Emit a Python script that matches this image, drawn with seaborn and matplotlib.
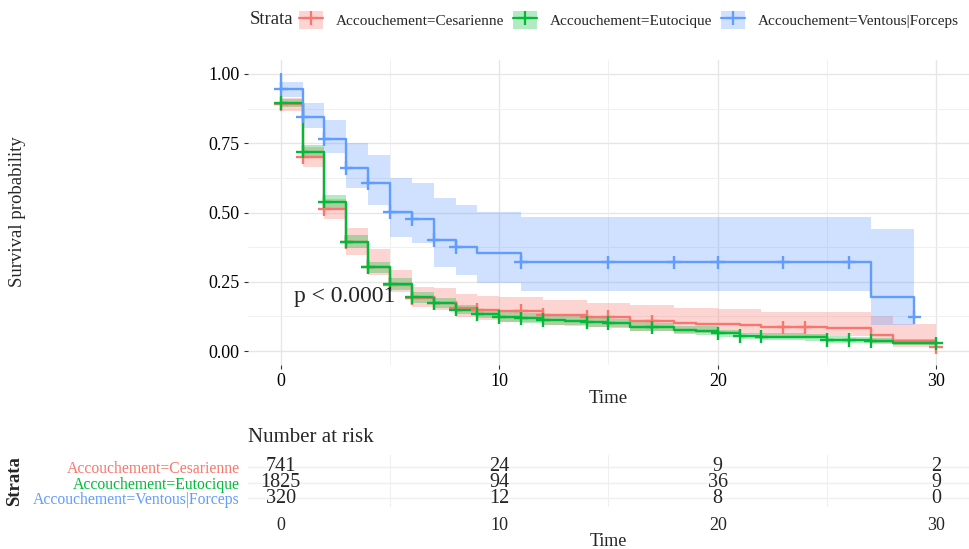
import numpy as np
import pandas as pd
import matplotlib
matplotlib.use("Agg")
import matplotlib.pyplot as plt
import seaborn as sns
from matplotlib.patches import Patch
from matplotlib.lines import Line2D
from matplotlib.legend_handler import HandlerTuple
from matplotlib.ticker import FixedLocator

# ---- data ---------------------------------------------------------------
strata = ["Accouchement=Cesarienne", "Accouchement=Eutocique", "Accouchement=Ventous|Forceps"]
palette = ["#F8766D", "#00BA38", "#619CFF"]

# Cesarienne: Kaplan-Meier steps at integer times
time_ces = list(range(31))
surv_ces = [0.891, 0.699, 0.512, 0.392, 0.304, 0.240, 0.192, 0.175, 0.157, 0.150,
            0.146, 0.146, 0.132, 0.130, 0.124, 0.124, 0.110, 0.107, 0.100, 0.099,
            0.097, 0.096, 0.086, 0.086, 0.086, 0.085, 0.085, 0.059, 0.036, 0.036, 0.014]
lower_ces = [0.865, 0.665, 0.475, 0.345, 0.274, 0.214, 0.160, 0.148, 0.124, 0.112,
             0.106, 0.106, 0.094, 0.092, 0.087, 0.087, 0.073, 0.071, 0.066, 0.065,
             0.063, 0.062, 0.054, 0.054, 0.053, 0.053, 0.053, 0.030, 0.014, 0.014, 0.002]
upper_ces = [0.914, 0.735, 0.550, 0.445, 0.367, 0.292, 0.232, 0.226, 0.206, 0.199,
             0.196, 0.196, 0.184, 0.184, 0.172, 0.172, 0.166, 0.165, 0.154, 0.154,
             0.152, 0.151, 0.142, 0.142, 0.141, 0.141, 0.140, 0.125, 0.099, 0.098, 0.060]
censor_ces = [0, 1, 2, 3, 4, 5, 6, 7, 8, 9, 11, 12, 14, 15, 17, 23, 24, 30]

# Eutocique
time_eut = list(range(31))
surv_eut = [0.895, 0.720, 0.539, 0.395, 0.303, 0.242, 0.194, 0.172, 0.150, 0.134,
            0.124, 0.118, 0.112, 0.110, 0.104, 0.101, 0.088, 0.086, 0.076, 0.074,
            0.064, 0.054, 0.052, 0.052, 0.050, 0.041, 0.040, 0.036, 0.031, 0.031, 0.028]
lower_eut = [0.882, 0.698, 0.514, 0.372, 0.283, 0.222, 0.175, 0.155, 0.134, 0.120,
             0.106, 0.101, 0.096, 0.093, 0.088, 0.085, 0.074, 0.072, 0.062, 0.060,
             0.051, 0.042, 0.040, 0.040, 0.038, 0.030, 0.029, 0.025, 0.021, 0.021, 0.018]
upper_eut = [0.908, 0.742, 0.564, 0.418, 0.322, 0.262, 0.213, 0.192, 0.168, 0.150,
             0.142, 0.136, 0.130, 0.127, 0.120, 0.117, 0.104, 0.101, 0.091, 0.089,
             0.078, 0.067, 0.065, 0.065, 0.063, 0.053, 0.052, 0.048, 0.043, 0.043, 0.040]
censor_eut = [0, 1, 2, 3, 4, 5, 6, 7, 8, 9, 10, 11, 12, 14, 15, 17, 20, 21, 22, 25, 26, 27, 30]

# Ventous|Forceps
time_vf = [0, 0, 1, 2, 3, 4, 5, 6, 7, 8, 9, 11, 27, 29]
surv_vf = [1.000, 0.945, 0.846, 0.765, 0.660, 0.605, 0.501, 0.477, 0.401, 0.374,
           0.353, 0.320, 0.194, 0.122]
lower_vf = [1.000, 0.915, 0.806, 0.714, 0.587, 0.527, 0.413, 0.389, 0.304, 0.274,
            0.244, 0.217, 0.094, 0.094]
upper_vf = [1.000, 0.972, 0.894, 0.834, 0.750, 0.708, 0.624, 0.605, 0.551, 0.527,
            0.503, 0.483, 0.440, 0.440]
censor_vf = [0, 1, 2, 3, 4, 5, 6, 7, 8, 11, 15, 18, 20, 23, 26, 29]

# Number at risk
risk_times = [0, 10, 20, 30]
risk_ces = [741, 24, 9, 2]
risk_eut = [1825, 94, 36, 9]
risk_vf = [320, 12, 8, 0]

p_label = "p < 0.0001"

# ---- tidy frames ---------------------------------------------------------
curves = [
    (time_ces, surv_ces, lower_ces, upper_ces, censor_ces),
    (time_eut, surv_eut, lower_eut, upper_eut, censor_eut),
    (time_vf, surv_vf, lower_vf, upper_vf, censor_vf),
]
line_rows, cens_rows = [], []
for name, (t, s, lo, up, cz) in zip(strata, curves):
    t_arr, s_arr = np.asarray(t, float), np.asarray(s, float)
    for ti, si in zip(t_arr, s_arr):
        line_rows.append({"time": ti, "surv": si, "strata": name})
    for c in cz:
        idx = np.searchsorted(t_arr, c, side="right") - 1
        cens_rows.append({"time": c, "surv": s_arr[idx], "strata": name})
df_line = pd.DataFrame(line_rows)
df_cens = pd.DataFrame(cens_rows)

# ---- style ---------------------------------------------------------------
sns.set_theme(style="white")
plt.rcParams["font.family"] = ["Liberation Serif", "DejaVu Serif"]
FS_TICK = 13
FS_TITLE = 13.5

fig = plt.figure(figsize=(9.7, 5.49), dpi=100)
W, H = 970, 549

def frac_box(x0, y0, x1, y1):
    return [x0 / W, 1 - y1 / H, (x1 - x0) / W, (y1 - y0) / H]

ax = fig.add_axes(frac_box(248, 60, 969, 365))
tab = fig.add_axes(frac_box(248, 455, 969, 507))

pal = dict(zip(strata, palette))

# confidence ribbons
for name, (t, s, lo, up, cz) in zip(strata, curves):
    ax.fill_between(t, lo, up, step="post", color=pal[name], alpha=0.3, lw=0, zorder=2)

# survival curves
sns.lineplot(data=df_line, x="time", y="surv", hue="strata", palette=pal,
             estimator=None, sort=False, drawstyle="steps-post", lw=1.7,
             legend=False, ax=ax, zorder=3)

# censoring marks
sns.scatterplot(data=df_cens, x="time", y="surv", hue="strata", palette=pal,
                marker="+", s=95, linewidth=1.7, legend=False, ax=ax, zorder=4)

ax.set_xlim(-1.5, 31.5)
ax.set_ylim(-0.05, 1.05)
ax.xaxis.set_major_locator(FixedLocator([0, 10, 20, 30]))
ax.xaxis.set_minor_locator(FixedLocator([5, 15, 25]))
ax.yaxis.set_major_locator(FixedLocator([0, 0.25, 0.5, 0.75, 1.0]))
ax.yaxis.set_minor_locator(FixedLocator([0.125, 0.375, 0.625, 0.875]))
ax.set_yticklabels(["0.00", "0.25", "0.50", "0.75", "1.00"])
ax.grid(True, which="major", color="#E6E6E6", lw=1.0, zorder=0)
ax.grid(True, which="minor", color="#F0F0F0", lw=0.7, zorder=0)
ax.set_axisbelow(True)
for sp in ax.spines.values():
    sp.set_visible(False)
ax.tick_params(axis="both", which="major", length=3, width=0.8, color="#333333",
               labelsize=FS_TICK, labelcolor="black", pad=3, direction="out",
               bottom=True, left=True)
ax.tick_params(axis="both", which="minor", length=0)
ax.set_xlabel("Time", fontsize=FS_TITLE, labelpad=0)
ax.set_ylabel("")
fig.text(18 / W, 1 - 212 / H, "Survival probability", rotation=90,
         fontsize=FS_TITLE, ha="center", va="center")
ax.text(0.6, 0.197, p_label, fontsize=17, ha="left", va="center", zorder=5)

# legend across the top
handles = [(Patch(facecolor=c, alpha=0.3, edgecolor="none"),
            Line2D([], [], color=c, marker="+", markersize=10, mew=1.6, lw=1.6))
           for c in palette]
fig.text(250 / W, 1 - 20 / H, "Strata", fontsize=FS_TITLE, ha="left", va="center")
fig.legend(handles, strata, handler_map={tuple: HandlerTuple(ndivide=1, pad=0)},
           loc="center left", bbox_to_anchor=(299 / W, 1 - 20 / H), ncol=3,
           frameon=False, fontsize=11, handlelength=1.55, handleheight=1.5,
           handletextpad=0.85, columnspacing=0.6, borderaxespad=0, borderpad=0)

# ---- number-at-risk table -----------------------------------------------
rows = [(strata[0], risk_ces, 3), (strata[1], risk_eut, 2), (strata[2], risk_vf, 1)]
for name, vals, ypos in rows:
    for t, v in zip(risk_times, vals):
        tab.text(t, ypos, str(v), ha="center", va="center", fontsize=14.5, zorder=3)
tab.set_xlim(-1.5, 31.5)
tab.set_ylim(0.45, 3.74)
tab.xaxis.set_major_locator(FixedLocator([0, 10, 20, 30]))
tab.xaxis.set_minor_locator(FixedLocator([5, 15, 25]))
tab.set_yticks([3, 2, 1])
tab.set_yticklabels(strata, fontsize=11.3)
for lbl, c in zip(tab.get_yticklabels(), palette):
    lbl.set_color(c)
tab.grid(False)
tab.grid(True, which="minor", axis="x", color="#EFEFEF", lw=0.8)
tab.grid(True, which="major", axis="y", color="#EFEFEF", lw=1.0)
tab.set_axisbelow(True)
for sp in tab.spines.values():
    sp.set_visible(False)
tab.tick_params(axis="x", which="major", length=0, labelsize=FS_TICK, pad=7)
tab.tick_params(axis="y", which="major", length=0, pad=6)
tab.tick_params(axis="both", which="minor", length=0)
tab.set_xlabel("")
tab.set_ylabel("")
fig.text(608 / W, 1 - 541 / H, "Time", fontsize=13, ha="center", va="center")
fig.text(15 / W, 1 - 481 / H, "Strata", rotation=90, fontsize=13.5,
         fontweight="bold", ha="center", va="center")
fig.text(248 / W, 1 - 437 / H, "Number at risk", fontsize=15, ha="left", va="center")

fig.savefig("out.png", dpi=100)
